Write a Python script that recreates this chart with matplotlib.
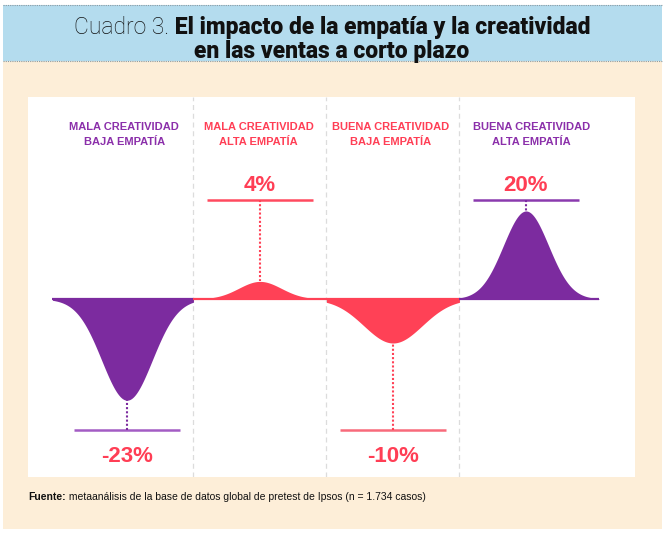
import numpy as np
import matplotlib
matplotlib.use("Agg")
import matplotlib.pyplot as plt
from matplotlib.patches import Rectangle
from matplotlib.lines import Line2D

# Data
categories = ["MALA CREATIVIDAD\nBAJA EMPATÍA",
              "MALA CREATIVIDAD\nALTA EMPATÍA",
              "BUENA CREATIVIDAD\nBAJA EMPATÍA",
              "BUENA CREATIVIDAD\nALTA EMPATÍA"]
values = [-23, 4, -10, 20]  # % impact on short term sales
value_labels = ["-23%", "4%", "-10%", "20%"]

# Styles
purple = "#7C2B9F"
red = "#FF4156"
fill_colors = [purple, red, red, purple]
label_colors = ["#8B2FAA", "#FF3E55", "#FF3E55", "#8B2FAA"]
line_colors = ["#A35CC4", "#FF4A5F", "#F86A7B", "#8A3AAE"]
widths = [0.19, 0.16, 0.22, 0.17]  # bell spread per panel
label_x = [-0.02, 0.99, 1.98, 3.04]

W, H = 665, 534
fig = plt.figure(figsize=(W / 100, H / 100), dpi=100)
fig.patch.set_facecolor("white")

def box(x, y, w, h):
    # pixel box (top-left origin) -> figure fraction
    return (x / W, 1 - (y + h) / H, w / W, h / H)

def fx(x):
    return x / W

def fy(y):
    return 1 - y / H

# background: cream card and blue title band
x0, y0, w0, h0 = box(3, 61, 659, 468)
fig.add_artist(Rectangle((x0, y0), w0, h0, transform=fig.transFigure,
                         facecolor="#FDEED8", edgecolor="none", zorder=0))
x0, y0, w0, h0 = box(3, 5, 659, 56)
fig.add_artist(Rectangle((x0, y0), w0, h0, transform=fig.transFigure,
                         facecolor="#B4DCEE", edgecolor="none", zorder=0))
for yy in [5, 61]:
    fig.add_artist(Line2D([fx(3), fx(662)], [fy(yy), fy(yy)], transform=fig.transFigure,
                          color="#8a9aa3", lw=0.8, ls=(0, (1, 1)), zorder=1))

renderer = fig.canvas.get_renderer()

def runs_text(runs, x, y, ha="center"):
    # draws text made of several differently styled pieces on one baseline
    texts = [fig.text(0, fy(y), s, va="baseline", ha="left", **p) for s, p in runs]
    ws = [t.get_window_extent(renderer).width / W for t in texts]
    start = fx(x) - sum(ws) / 2 if ha == "center" else fx(x)
    for t, w in zip(texts, ws):
        t.set_x(start)
        start += w

title_font = "Roboto"
runs_text([("Cuadro 3.", dict(family=title_font, fontsize=16.5, weight="light", color="#111111")),
           (" El impacto de la empatía y la creatividad",
            dict(family=title_font, fontsize=16.5, weight="black", color="#111111"))], 332, 34)
runs_text([("en las ventas a corto plazo",
            dict(family=title_font, fontsize=16.5, weight="black", color="#111111"))], 332, 58)

runs_text([("Fuente:", dict(family="Liberation Sans", fontsize=7.5, weight="bold", color="#111111")),
           (" metaanálisis de la base de datos global de pretest de Ipsos (n = 1.734 casos)",
            dict(family="Liberation Sans", fontsize=7.5, color="#111111"))], 28, 500, ha="left")

# main white panel, x in panel units, y in %
ax = fig.add_axes(box(28, 97, 607, 380))
ax.set_facecolor("white")
ax.set_xlim(-0.744, 3.82)
ax.set_ylim(-40.45, 45.9)
for s in ax.spines.values():
    s.set_visible(False)
ax.set_xticks([])
ax.set_yticks([])

for xd in [0.5, 1.5, 2.5]:
    ax.axvline(xd, color="#dcdcdc", lw=0.9, ls=(0, (4, 3)), zorder=1)

edges = [-0.56, 0.5, 1.5, 2.5, 3.55]
ref_pos, ref_neg = 22.5, -29.8

for i, v in enumerate(values):
    xs = np.linspace(edges[i], edges[i + 1], 400)
    ys = v * np.exp(-0.5 * ((xs - i) / widths[i]) ** 2)
    ax.fill_between(xs, 0, ys, color=fill_colors[i], lw=0, zorder=3)
    ax.plot([edges[i], edges[i + 1]], [0, 0], color=fill_colors[i], lw=1.6,
            solid_capstyle="butt", zorder=3)

    ref = ref_pos if v > 0 else ref_neg
    ax.plot([i - 0.4, i + 0.4], [ref, ref], color=line_colors[i], lw=1.8,
            solid_capstyle="butt", zorder=4)
    ax.plot([i, i], [ref, v], color=fill_colors[i], lw=1.5, ls=(0, (1, 1)), zorder=4)

    ty = 24.5 if v > 0 else -37.0
    ax.text(i, ty, value_labels[i], ha="center", va="baseline", family="Liberation Sans",
            weight="bold", fontsize=16, color="#FF3E55", zorder=5)

    line1, line2 = categories[i].split("\n")
    ax.text(label_x[i], 38.4, line1, ha="center", va="baseline", family="Liberation Sans",
            weight="bold", fontsize=8, color=label_colors[i])
    ax.text(label_x[i], 35.0, line2, ha="center", va="baseline", family="Liberation Sans",
            weight="bold", fontsize=8, color=label_colors[i])

fig.savefig("out.png", dpi=100)
